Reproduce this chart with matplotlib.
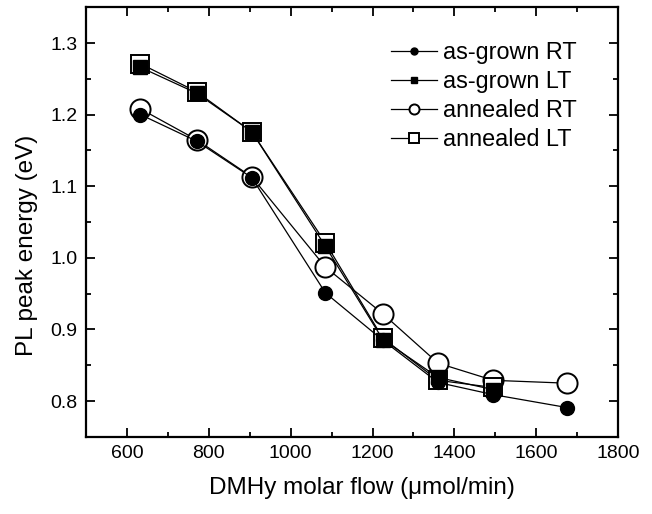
import matplotlib
matplotlib.use("Agg")
import matplotlib.pyplot as plt
from matplotlib.ticker import MultipleLocator

plt.rcParams['font.family'] = ['Liberation Sans', 'DejaVu Sans']

flow_rt = [633, 770, 905, 1085, 1225, 1360, 1495, 1675]
flow_lt = [633, 770, 905, 1085, 1225, 1360, 1495]

asgrown_rt = [1.200, 1.163, 1.112, 0.951, 0.885, 0.826, 0.809, 0.791]
asgrown_lt = [1.266, 1.230, 1.176, 1.016, 0.886, 0.833, 0.816]
annealed_rt = [1.208, 1.165, 1.113, 0.987, 0.922, 0.853, 0.829, 0.825]
annealed_lt = [1.271, 1.232, 1.176, 1.021, 0.888, 0.829, 0.819]

labels = ["as-grown RT", "as-grown LT", "annealed RT", "annealed LT"]

fig = plt.figure(figsize=(6.52, 5.14), dpi=100)
ax = fig.add_axes([0.132, 0.150, 0.816, 0.836])

lw = 0.9
h_art = ax.plot(flow_rt, annealed_rt, '-', color='black', lw=lw, marker='o', ms=14.5,
                mfc='white', mec='black', mew=1.4, zorder=2, label=labels[2])[0]
h_alt = ax.plot(flow_lt, annealed_lt, '-', color='black', lw=lw, marker='s', ms=13,
                mfc='white', mec='black', mew=1.4, zorder=2, label=labels[3])[0]
h_grt = ax.plot(flow_rt, asgrown_rt, '-', color='black', lw=lw, marker='o', ms=10,
                mfc='black', mec='black', zorder=3, label=labels[0])[0]
h_glt = ax.plot(flow_lt, asgrown_lt, '-', color='black', lw=lw, marker='s', ms=9.5,
                mfc='black', mec='black', zorder=3, label=labels[1])[0]

ax.set_xlim(500, 1800)
ax.set_ylim(0.75, 1.35)
ax.xaxis.set_major_locator(MultipleLocator(200))
ax.xaxis.set_minor_locator(MultipleLocator(100))
ax.yaxis.set_major_locator(MultipleLocator(0.1))
ax.yaxis.set_minor_locator(MultipleLocator(0.05))
ax.tick_params(which='both', direction='in', top=True, right=True, width=1.3,
               labelsize=14)
ax.tick_params(which='major', length=6.5, pad=6)
ax.tick_params(which='minor', length=3.5)
for s in ax.spines.values():
    s.set_linewidth(1.6)

ax.set_xlabel("DMHy molar flow (\u03bcmol/min)", fontsize=17.5)
ax.set_ylabel("PL peak energy (eV)", fontsize=17.5)
ax.xaxis.set_label_coords(0.519, -0.094)
ax.yaxis.set_label_coords(-0.090, 0.446)

leg = ax.legend([h_grt, h_glt, h_art, h_alt], labels, loc='upper left',
                bbox_to_anchor=(0.555, 0.9425), borderaxespad=0, frameon=False,
                fontsize=16.8, markerscale=0.5, handlelength=2.0,
                handletextpad=0.25, labelspacing=0.25)

fig.savefig("out.png", dpi=100)
